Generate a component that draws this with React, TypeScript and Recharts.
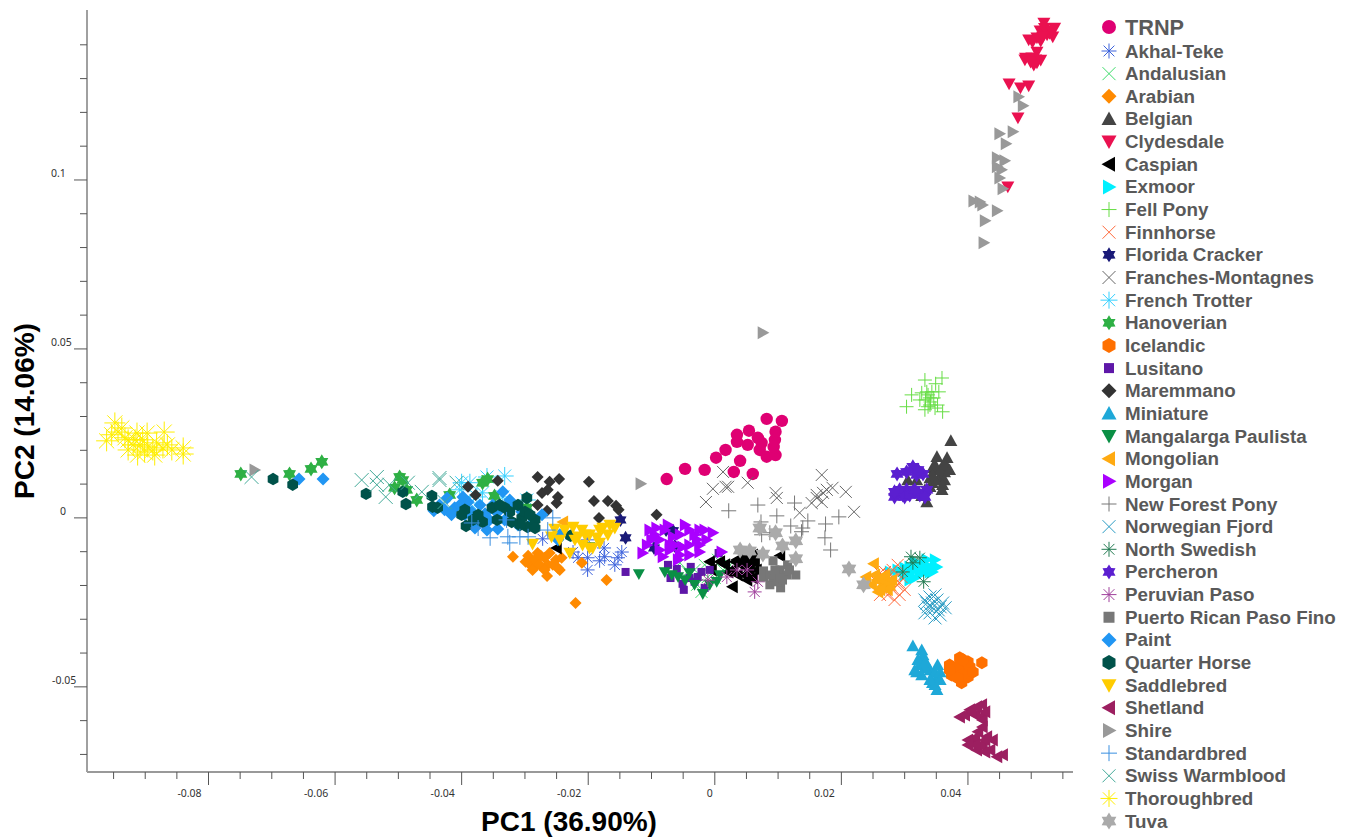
import React from 'react';
import { ScatterChart, Scatter, XAxis, YAxis, Legend } from 'recharts';

type P = [number, number];

const trnp: P[] = [[-.0076,.0115],[-.0047,.0145],[-.0016,.0142],[.0002,.0178],[.0017,.0201],[.0030,.0136],[.0060,.0130],[.0040,.0169],[.0035,.0246],[.0054,.0258],[.0052,.0216],[.0068,.0237],[.0074,.0222],[.0071,.0201],[.0082,.0181],[.0096,.0186],[.0095,.0231],[.0096,.0255],[.0082,.0293],[.0106,.0287],[.0035,.0225],[.0093,.0210]];
const akhalTeke: P[] = [[-.0272,-.0062],[-.0224,-.0101],[-.0216,-.0118],[-.0201,-.0118],[-.0201,-.0154],[-.0175,-.0089],[-.0174,-.0115],[-.0182,-.0127],[-.0158,-.0139],[-.0153,-.0118],[-.0147,-.0101],[-.0201,-.0065]];
const andalusian: P[] = [[-.0055,-.0133],[-.0043,-.0160],[-.0028,-.0198],[.0005,-.0124],[.0013,-.0154],[-.0011,-.0175],[-.0032,-.0154],[-.0016,-.0139],[.0000,-.0178],[.0024,-.0139],[-.0040,-.0184],[-.0021,-.0219]];
const arabian: P[] = [[-.0319,-.0115],[-.0295,-.0112],[-.0292,-.0139],[-.0280,-.0104],[-.0269,-.0118],[-.0256,-.0139],[-.0242,-.0118],[-.0245,-.0154],[-.0265,-.0172],[-.0281,-.0139],[-.0171,-.0184],[-.0220,-.0252],[-.0210,-.0133],[-.0284,-.0124],[-.0264,-.0139],[-.0251,-.0124],[-.0277,-.0139],[-.0269,-.0154],[-.0261,-.0104],[-.0248,-.0148],[-.0288,-.0154],[-.0275,-.0112],[-.0299,-.0130]];
const belgian: P[] = [[.0373,.0228],[.0351,.0181],[.0367,.0178],[.0344,.0148],[.0359,.0151],[.0368,.0148],[.0305,.0112],[.0319,.0112],[.0359,.0083],[.0327,.0065],[.0335,.0047],[.0340,.0118],[.0356,.0121],[.0344,.0104],[.0363,.0136],[.0351,.0142],[.0340,.0092],[.0352,.0112],[.0363,.0112],[.0356,.0142],[.0348,.0157],[.0332,.0083],[.0363,.0157],[.0371,.0142],[.0360,.0098],[.0344,.0127]];
const clydesdale: P[] = [[.0520,.1465],[.0537,.1450],[.0526,.1439],[.0534,.1424],[.0496,.1415],[.0509,.1421],[.0525,.1430],[.0509,.1379],[.0490,.1356],[.0507,.1356],[.0509,.1347],[.0501,.1362],[.0465,.1285],[.0483,.1273],[.0496,.1279],[.0479,.1184],[.0463,.0980],[.0514,.1442],[.0529,.1434],[.0521,.1449],[.0502,.1408],[.0515,.1411],[.0491,.1361],[.0499,.1349],[.0515,.1355],[.0504,.1340],[.0532,.1442],[.0518,.1423]];
const caspian: P[] = [[-.0008,-.0130],[-.0005,-.0154],[.0035,-.0124],[.0051,-.0115],[.0060,-.0110],[.0063,-.0133],[.0047,-.0133],[.0028,-.0154],[.0055,-.0160],[.0060,-.0178],[.0051,-.0184],[.0028,-.0204],[.0103,-.0112],[.0016,-.0139],[-.0250,-.0089],[.0043,-.0142],[.0055,-.0139],[.0036,-.0169],[.0047,-.0169],[.0058,-.0124],[.0021,-.0160],[.0008,-.0130],[.0066,-.0154],[.0032,-.0130],[.0043,-.0118]];
const exmoor: P[] = [[.0277,-.0160],[.0289,-.0154],[.0308,-.0145],[.0319,-.0133],[.0335,-.0124],[.0348,-.0124],[.0344,-.0160],[.0329,-.0163],[.0308,-.0184],[.0324,-.0163],[.0316,-.0178],[.0340,-.0145],[.0300,-.0169],[.0311,-.0160],[.0321,-.0145],[.0332,-.0139],[.0340,-.0160],[.0351,-.0145],[.0332,-.0154],[.0300,-.0148],[.0316,-.0130]];
const fellPony: P[] = [[.0303,.0329],[.0332,.0408],[.0359,.0414],[.0349,.0397],[.0327,.0370],[.0311,.0364],[.0333,.0349],[.0340,.0334],[.0346,.0355],[.0337,.0329],[.0360,.0314],[.0354,.0373],[.0343,.0373],[.0337,.0364],[.0341,.0343],[.0324,.0349],[.0332,.0320],[.0340,.0355],[.0348,.0325],[.0335,.0373],[.0352,.0334]];
const finnhorse: P[] = [[.0289,-.0139],[.0265,-.0178],[.0256,-.0189],[.0284,-.0178],[.0277,-.0198],[.0269,-.0213],[.0284,-.0243],[.0300,-.0213],[.0261,-.0163],[.0292,-.0192],[.0295,-.0175],[.0261,-.0198],[.0269,-.0184],[.0277,-.0169],[.0281,-.0213],[.0273,-.0228],[.0288,-.0198],[.0261,-.0228],[.0292,-.0228],[.0269,-.0160],[.0281,-.0154]];
const floridaCracker: P[] = [[-.0149,-.0006],[-.0141,-.0059],[-.0077,-.0036],[-.0066,-.0038],[-.0096,-.0089],[-.0063,-.0083]];
const franchesMontagnes: P[] = [[.0013,.0136],[-.0003,.0086],[-.0014,.0047],[.0017,.0092],[.0021,.0092],[.0052,.0104],[.0096,.0074],[.0098,.0059],[.0134,.0015],[.0169,.0127],[.0186,.0089],[.0207,.0077],[.0220,.0018],[.0177,.0083],[.0161,.0068],[.0153,.0044],[.0169,.0047],[.0161,.0059],[.0171,.0074]];
const frenchTrotter: P[] = [[-.0400,.0104],[-.0387,.0104],[-.0360,.0121],[-.0332,.0124],[-.0367,.0074],[-.0376,.0062],[-.0335,.0062],[-.0297,.0053],[-.0387,.0044],[-.0403,.0083]];
const hanoverian: P[] = [[-.0749,.0130],[-.0672,.0130],[-.0638,.0145],[-.0621,.0166],[-.0498,.0121],[-.0493,.0112],[-.0506,.0089],[-.0487,.0083],[-.0471,.0053],[-.0419,.0068],[-.0367,.0104],[-.0359,.0115],[-.0348,.0065],[-.0297,.0030]];
const icelandic: P[] = [[.0422,-.0429],[.0387,-.0414],[.0400,-.0426],[.0371,-.0435],[.0379,-.0456],[.0395,-.0450],[.0403,-.0441],[.0400,-.0471],[.0390,-.0488],[.0374,-.0465],[.0387,-.0435],[.0384,-.0444],[.0392,-.0420],[.0408,-.0456],[.0390,-.0465],[.0384,-.0474],[.0371,-.0450]];
const lusitano: P[] = [[-.0141,-.0160],[-.0074,-.0139],[-.0060,-.0151],[-.0070,-.0178],[-.0051,-.0195],[-.0049,-.0213],[-.0038,-.0145],[-.0016,-.0207],[-.0027,-.0175],[.0006,-.0104],[-.0032,-.0189],[-.0021,-.0160],[-.0008,-.0154],[-.0040,-.0178]];
const maremmano: P[] = [[-.0280,.0121],[-.0261,.0107],[-.0246,.0115],[-.0343,.0110],[-.0273,.0074],[-.0264,.0083],[-.0248,.0062],[-.0250,.0044],[-.0280,.0038],[-.0265,.0021],[-.0199,.0107],[-.0191,.0050],[-.0169,.0050],[-.0156,.0036],[-.0152,.0024],[-.0183,.0000],[-.0092,.0009],[-.0390,.0092],[-.0378,.0068]];
const miniature: P[] = [[.0313,-.0379],[.0327,-.0391],[.0329,-.0414],[.0324,-.0435],[.0319,-.0456],[.0352,-.0435],[.0340,-.0450],[.0351,-.0471],[.0344,-.0488],[.0351,-.0509],[.0329,-.0406],[.0321,-.0420],[.0332,-.0444],[.0327,-.0465],[.0316,-.0450],[.0348,-.0456],[.0356,-.0456],[.0348,-.0494],[.0340,-.0479],[.0356,-.0479],[.0333,-.0426]];
const mangalarga: P[] = [[-.0198,-.0086],[-.0120,-.0166],[-.0079,-.0160],[-.0058,-.0175],[-.0040,-.0163],[-.0019,-.0225],[.0003,-.0189],[-.0068,-.0169],[-.0047,-.0184],[-.0032,-.0198],[-.0008,-.0198],[.0008,-.0169]];
const mongolian: P[] = [[.0251,-.0136],[.0239,-.0175],[.0256,-.0184],[.0264,-.0204],[.0258,-.0219],[.0269,-.0169],[.0277,-.0198],[-.0240,-.0012],[.0253,-.0169],[.0261,-.0178],[.0269,-.0189],[.0273,-.0213],[.0280,-.0184],[.0261,-.0213],[.0248,-.0198]];
const morgan: P[] = [[-.0092,-.0030],[-.0107,-.0080],[-.0114,-.0104],[-.0082,-.0115],[-.0024,-.0036],[-.0003,-.0044],[-.0013,-.0065],[-.0040,-.0036],[-.0066,-.0056],[-.0051,-.0086],[-.0024,-.0101],[-.0040,-.0110],[-.0055,-.0110],[-.0087,-.0065],[-.0071,-.0095],[.0011,-.0101],[-.0028,-.0065],[-.0095,-.0050],[-.0079,-.0036],[-.0055,-.0050],[-.0100,-.0065],[-.0074,-.0021],[-.0063,-.0080],[-.0040,-.0080],[-.0032,-.0050],[-.0016,-.0036],[-.0103,-.0036],[-.0087,-.0095],[-.0047,-.0021],[-.0058,-.0124],[-.0024,-.0080],[-.0071,-.0080]];
const newForest: P[] = [[.0022,.0021],[.0068,.0038],[.0098,.0006],[.0126,.0044],[.0073,-.0012],[.0120,-.0024],[.0147,-.0009],[.0139,-.0030],[.0087,-.0044],[.0074,-.0050],[.0175,-.0018],[.0196,.0003],[.0174,-.0059],[.0183,-.0095],[.0137,-.0041]];
const norwegianFjord: P[] = [[.0340,-.0234],[.0351,-.0243],[.0335,-.0252],[.0356,-.0263],[.0344,-.0266],[.0332,-.0281],[.0356,-.0287],[.0360,-.0252],[.0344,-.0252],[.0348,-.0228],[.0337,-.0263],[.0353,-.0272],[.0364,-.0266],[.0340,-.0281],[.0348,-.0296],[.0332,-.0243]];
const northSwedish: P[] = [[.0310,-.0115],[.0324,-.0118],[.0297,-.0160],[.0330,-.0189],[.0313,-.0133]];
const percheron: P[] = [[.0288,.0130],[.0313,.0151],[.0329,.0130],[.0284,.0062],[.0297,.0068],[.0313,.0077],[.0335,.0083],[.0319,.0127],[.0303,.0083],[.0321,.0074],[.0292,.0083],[.0284,.0077],[.0300,.0062],[.0308,.0068],[.0324,.0068],[.0316,.0083],[.0332,.0062],[.0303,.0136],[.0321,.0142]];
const peruvianPaso: P[] = [[.0063,-.0219],[.0068,-.0189],[.0035,-.0154],[.0019,-.0175],[-.0011,-.0184],[.0051,-.0154]];
const puertoRican: P[] = [[.0092,-.0127],[.0077,-.0157],[.0077,-.0175],[.0087,-.0198],[.0104,-.0207],[.0092,-.0175],[.0103,-.0154],[.0115,-.0139],[.0114,-.0169],[.0128,-.0169],[.0098,-.0189],[.0107,-.0184],[.0087,-.0169],[.0103,-.0178],[.0095,-.0154],[.0118,-.0154]];
const paint: P[] = [[-.0657,.0115],[-.0619,.0115],[-.0444,.0021],[-.0423,.0059],[-.0411,.0030],[-.0390,.0047],[-.0376,-.0015],[-.0363,.0012],[-.0344,.0015],[-.0343,-.0033],[-.0321,.0030],[-.0311,-.0021],[-.0335,.0077],[-.0273,.0009],[-.0245,-.0050],[-.0248,-.0065],[-.0427,.0024],[-.0403,.0038],[-.0435,.0038],[-.0416,.0009],[-.0398,.0062],[-.0384,.0018],[-.0371,.0038],[-.0356,-.0006],[-.0351,.0038],[-.0332,-.0006],[-.0324,.0053],[-.0305,.0018],[-.0292,.0009],[-.0379,-.0030],[-.0360,-.0036],[-.0292,-.0021],[-.0395,.0009]];
const quarterHorse: P[] = [[-.0698,.0115],[-.0667,.0098],[-.0551,.0071],[-.0493,.0077],[-.0488,.0041],[-.0447,.0065],[-.0446,.0033],[-.0438,.0030],[-.0400,.0009],[-.0393,-.0024],[-.0367,-.0012],[-.0352,.0030],[-.0332,.0030],[-.0311,.0038],[-.0305,.0000],[-.0296,-.0027],[-.0284,-.0006],[-.0228,-.0053],[-.0382,-.0006],[-.0395,.0024],[-.0374,.0009],[-.0344,-.0006],[-.0324,.0018],[-.0300,.0018],[-.0308,-.0021],[-.0292,.0009],[-.0340,.0038],[-.0321,-.0012],[-.0284,-.0030],[-.0297,.0059]];
const saddlebred: P[] = [[-.0253,-.0033],[-.0224,-.0027],[-.0210,-.0036],[-.0216,-.0056],[-.0258,-.0056],[-.0209,-.0080],[-.0193,-.0089],[-.0186,-.0059],[-.0177,-.0030],[-.0158,-.0030],[-.0182,-.0074],[-.0288,-.0077],[-.0229,-.0104],[-.0198,-.0089],[-.0237,-.0036],[-.0221,-.0065],[-.0198,-.0050],[-.0169,-.0050],[-.0205,-.0050],[-.0245,-.0065],[-.0182,-.0036],[-.0166,-.0021]];
const shetland: P[] = [[.0422,-.0553],[.0403,-.0568],[.0387,-.0589],[.0419,-.0589],[.0423,-.0598],[.0416,-.0633],[.0406,-.0663],[.0430,-.0648],[.0423,-.0672],[.0414,-.0687],[.0439,-.0657],[.0446,-.0707],[.0455,-.0701],[.0423,-.0619],[.0395,-.0583],[.0411,-.0583],[.0427,-.0574],[.0400,-.0657],[.0411,-.0651],[.0419,-.0672],[.0427,-.0657],[.0435,-.0687],[.0411,-.0672],[.0400,-.0672],[.0427,-.0693],[.0406,-.0574],[.0414,-.0559]];
const shire: P[] = [[.0480,.1246],[.0487,.1220],[.0450,.1137],[.0471,.1143],[.0460,.1107],[.0446,.1066],[.0458,.1057],[.0446,.1039],[.0453,.1030],[.0450,.1006],[.0455,.0974],[.0409,.0938],[.0419,.0935],[.0423,.0926],[.0446,.0909],[.0427,.0879],[.0425,.0814],[.0076,.0548],[-.0117,.0101],[-.0727,.0142]];
const standardbred: P[] = [[-.0374,-.0030],[-.0355,-.0059],[-.0329,-.0006],[-.0327,-.0056],[-.0324,-.0074],[-.0308,-.0056],[-.0295,-.0056],[-.0256,.0000],[-.0264,-.0036],[-.0384,-.0015]];
const swissWarmblood: P[] = [[-.0732,.0121],[-.0558,.0112],[-.0534,.0121],[-.0534,.0098],[-.0520,.0062],[-.0514,.0098],[-.0485,.0104],[-.0463,.0077],[-.0435,.0112],[-.0435,.0118],[-.0427,.0047],[-.0408,.0104]];
const thoroughbred: P[] = [[-.0948,.0281],[-.0937,.0266],[-.0961,.0228],[-.0953,.0246],[-.0927,.0231],[-.0913,.0251],[-.0897,.0251],[-.0870,.0254],[-.0919,.0216],[-.0908,.0216],[-.0896,.0210],[-.0882,.0222],[-.0872,.0207],[-.0916,.0231],[-.0840,.0207],[-.0840,.0189],[-.0888,.0201],[-.0904,.0231],[-.0932,.0237],[-.0865,.0216],[-.0943,.0254],[-.0927,.0201],[-.0901,.0195],[-.0885,.0186],[-.0858,.0201],[-.0912,.0186]];
const tuva: P[] = [[.0071,-.0030],[.0096,-.0044],[.0107,-.0083],[.0128,-.0068],[.0040,-.0095],[.0055,-.0098],[.0076,-.0107],[.0128,-.0121],[.0212,-.0151],[.0235,-.0198]];

const xTicks = [-0.095,-0.09,-0.085,-0.08,-0.075,-0.07,-0.065,-0.06,-0.055,-0.05,-0.045,-0.04,-0.035,-0.03,-0.025,-0.02,-0.015,-0.01,-0.005,0,0.005,0.01,0.015,0.02,0.025,0.03,0.035,0.04,0.045,0.05,0.055];
const xLabelled = [-0.08,-0.06,-0.04,-0.02,0,0.02,0.04];
const yTicks = [0.14,0.13,0.12,0.11,0.1,0.09,0.08,0.07,0.06,0.05,0.04,0.03,0.02,0.01,0,-0.01,-0.02,-0.03,-0.04,-0.05,-0.06,-0.07];
const yLabelled = [0.1,0.05,0,-0.05];

const xLabel = 'PC1 (36.90%)';
const yLabel = 'PC2 (14.06%)';

type Kind = 'circle'|'ast'|'x'|'diamond'|'up'|'down'|'left'|'right'|'plus'|'star'|'hex'|'square';
type S = { name: string; data: P[]; color: string; kind: Kind; r: number };

const series: S[] = [
  { name: 'TRNP', data: trnp, color: '#df0073', kind: 'circle', r: 6.2 },
  { name: 'Akhal-Teke', data: akhalTeke, color: '#3c62dc', kind: 'ast', r: 7 },
  { name: 'Andalusian', data: andalusian, color: '#3ddc6a', kind: 'x', r: 6 },
  { name: 'Arabian', data: arabian, color: '#ff8a00', kind: 'diamond', r: 6 },
  { name: 'Belgian', data: belgian, color: '#444444', kind: 'up', r: 6.5 },
  { name: 'Clydesdale', data: clydesdale, color: '#ea1150', kind: 'down', r: 6.5 },
  { name: 'Caspian', data: caspian, color: '#000000', kind: 'left', r: 6.5 },
  { name: 'Exmoor', data: exmoor, color: '#00f0ff', kind: 'right', r: 6.5 },
  { name: 'Fell Pony', data: fellPony, color: '#66dd44', kind: 'plus', r: 7 },
  { name: 'Finnhorse', data: finnhorse, color: '#ff6a3c', kind: 'x', r: 6 },
  { name: 'Florida Cracker', data: floridaCracker, color: '#1a1a78', kind: 'star', r: 7 },
  { name: 'Franches-Montagnes', data: franchesMontagnes, color: '#666666', kind: 'x', r: 6 },
  { name: 'French Trotter', data: frenchTrotter, color: '#33d0ff', kind: 'ast', r: 9 },
  { name: 'Hanoverian', data: hanoverian, color: '#2eb044', kind: 'star', r: 7.5 },
  { name: 'Icelandic', data: icelandic, color: '#ff7000', kind: 'hex', r: 6.5 },
  { name: 'Lusitano', data: lusitano, color: '#5e17a8', kind: 'square', r: 4 },
  { name: 'Maremmano', data: maremmano, color: '#333333', kind: 'diamond', r: 6 },
  { name: 'Miniature', data: miniature, color: '#1ea8d8', kind: 'up', r: 6.5 },
  { name: 'Mangalarga Paulista', data: mangalarga, color: '#0a8f45', kind: 'down', r: 6 },
  { name: 'Mongolian', data: mongolian, color: '#ffaa11', kind: 'left', r: 6.5 },
  { name: 'Morgan', data: morgan, color: '#aa00ff', kind: 'right', r: 6.5 },
  { name: 'New Forest Pony', data: newForest, color: '#777777', kind: 'plus', r: 7.5 },
  { name: 'Norwegian Fjord', data: norwegianFjord, color: '#2a9cc4', kind: 'x', r: 6.5 },
  { name: 'North Swedish', data: northSwedish, color: '#217a50', kind: 'ast', r: 7 },
  { name: 'Percheron', data: percheron, color: '#5b1fd0', kind: 'star', r: 7.5 },
  { name: 'Peruvian Paso', data: peruvianPaso, color: '#a0409c', kind: 'ast', r: 7 },
  { name: 'Puerto Rican Paso Fino', data: puertoRican, color: '#777777', kind: 'square', r: 4.5 },
  { name: 'Paint', data: paint, color: '#2196f3', kind: 'diamond', r: 6.5 },
  { name: 'Quarter Horse', data: quarterHorse, color: '#00524a', kind: 'hex', r: 6.2 },
  { name: 'Saddlebred', data: saddlebred, color: '#ffcc00', kind: 'down', r: 6.5 },
  { name: 'Shetland', data: shetland, color: '#9c1f60', kind: 'left', r: 6.5 },
  { name: 'Shire', data: shire, color: '#999999', kind: 'right', r: 6.5 },
  { name: 'Standardbred', data: standardbred, color: '#3a8fe0', kind: 'plus', r: 8 },
  { name: 'Swiss Warmblood', data: swissWarmblood, color: '#44aa99', kind: 'x', r: 7 },
  { name: 'Thoroughbred', data: thoroughbred, color: '#ffee00', kind: 'ast', r: 10.5 },
  { name: 'Tuva', data: tuva, color: '#aaaaaa', kind: 'star', r: 8.5 },
];

function poly(pts: number[][]) {
  return pts.map((p) => p[0].toFixed(2) + ',' + p[1].toFixed(2)).join(' ');
}

function Marker({ cx, cy, kind, r, color }: { cx: number; cy: number; kind: Kind; r: number; color: string }) {
  const lines = (segs: number[][]) => (
    <g stroke={color} strokeWidth={1} fill="none">
      {segs.map((s, i) => <line key={i} x1={cx + s[0]} y1={cy + s[1]} x2={cx + s[2]} y2={cy + s[3]} />)}
    </g>
  );
  const d = r * 0.72;
  switch (kind) {
    case 'circle': return <circle cx={cx} cy={cy} r={r} fill={color} />;
    case 'square': return <rect x={cx - r} y={cy - r} width={2 * r} height={2 * r} fill={color} />;
    case 'diamond': return <polygon points={poly([[cx, cy - r], [cx + r, cy], [cx, cy + r], [cx - r, cy]])} fill={color} />;
    case 'up': return <polygon points={poly([[cx, cy - r], [cx + r, cy + r * 0.8], [cx - r, cy + r * 0.8]])} fill={color} />;
    case 'down': return <polygon points={poly([[cx, cy + r], [cx + r, cy - r * 0.8], [cx - r, cy - r * 0.8]])} fill={color} />;
    case 'left': return <polygon points={poly([[cx - r, cy], [cx + r * 0.8, cy - r], [cx + r * 0.8, cy + r]])} fill={color} />;
    case 'right': return <polygon points={poly([[cx + r, cy], [cx - r * 0.8, cy - r], [cx - r * 0.8, cy + r]])} fill={color} />;
    case 'hex': {
      const a = [0, 1, 2, 3, 4, 5].map((i) => {
        const t = Math.PI / 3 * i + Math.PI / 6;
        return [cx + r * Math.cos(t), cy + r * Math.sin(t)];
      });
      return <polygon points={poly(a)} fill={color} />;
    }
    case 'star': {
      const a = [0, 1, 2, 3, 4, 5, 6, 7, 8, 9, 10, 11].map((i) => {
        const t = Math.PI / 6 * i - Math.PI / 2;
        const q = i % 2 === 0 ? r : r * 0.6;
        return [cx + q * Math.cos(t), cy + q * Math.sin(t)];
      });
      return <polygon points={poly(a)} fill={color} />;
    }
    case 'x': return lines([[-r, -r, r, r], [-r, r, r, -r]]);
    case 'plus': return lines([[-r, 0, r, 0], [0, -r, 0, r]]);
    case 'ast': return lines([[-r, 0, r, 0], [0, -r, 0, r], [-d, -d, d, d], [-d, d, d, -d]]);
  }
  return null;
}

const XTick = (props: any) => {
  const { x, y, payload } = props;
  const v = payload.value as number;
  const major = xLabelled.includes(v);
  const dx = v === 0 ? -5 : v > 0 ? -17 : -19;
  return (
    <g>
      <line x1={x} y1={y} x2={x} y2={y + (major ? 13 : 7)} stroke="#555555" strokeWidth={1} />
      {major && <text x={x + dx} y={y + 25} textAnchor="middle" fontFamily="Noto Sans" fontSize={10.5} fill="#333333">{String(v)}</text>}
    </g>
  );
};

const YTick = (props: any) => {
  const { x, y, payload } = props;
  const v = payload.value as number;
  const major = yLabelled.includes(v);
  const lx = v === 0 ? 60 : v < 0 ? 52 : 51;
  return (
    <g>
      <line x1={x} y1={y} x2={x - (major ? 13 : 7)} y2={y} stroke="#555555" strokeWidth={1} />
      {major && <text x={lx} y={y - 3} fontFamily="Noto Sans" fontSize={10.5} fill="#333333">{String(v)}</text>}
    </g>
  );
};

const LegendBody = () => (
  <svg width={259} height={828} style={{ display: 'block', overflow: 'visible' }}>
    {series.map((s, i) => {
      const first = i === 0;
      const cy = first ? 17 : 41 + (i - 1) * 22.65;
      const ls = s.kind === 'square' ? s.r + 1 : s.kind === 'circle' ? 7 : s.kind === 'x' ? 6.5 : s.r < 7.5 ? 7.5 : Math.min(s.r, 8.5);
      return (
        <g key={s.name}>
          <Marker cx={19} cy={cy} kind={s.kind} r={ls} color={s.color} />
          <text x={35} y={cy + (first ? 7.5 : 6.5)} fontFamily="Liberation Sans" fontWeight={700} fontSize={first ? 21.7 : 18.8} fill="#595959">{s.name}</text>
        </g>
      );
    })}
  </svg>
);

export default function App() {
  return (
    <div style={{ position: 'absolute', left: 0, top: 0, width: 1349, height: 838, background: '#ffffff' }}>
      <ScatterChart width={1349} height={838} margin={{ top: 10, right: 17, bottom: 0, left: 0 }}>
        <XAxis
          type="number"
          dataKey="x"
          domain={[-0.0992, 0.0566]}
          ticks={xTicks}
          interval={0}
          height={66}
          tickSize={0}
          tickMargin={0}
          tickLine={false}
          tick={XTick}
          axisLine={{ stroke: '#999999', strokeWidth: 2 }}
          allowDataOverflow
          label={() => (
            <text x={569} y={831} textAnchor="middle" fontFamily="Liberation Sans" fontWeight={700} fontSize={28} fill="#000000">{xLabel}</text>
          )}
        />
        <YAxis
          type="number"
          dataKey="y"
          domain={[-0.0752, 0.1503]}
          ticks={yTicks}
          interval={0}
          width={87}
          tickSize={0}
          tickMargin={0}
          tickLine={false}
          tick={YTick}
          axisLine={{ stroke: '#a0a0a0', strokeWidth: 2 }}
          allowDataOverflow
          label={() => (
            <text x={34} y={411} transform="rotate(-90 34 411)" textAnchor="middle" fontFamily="Liberation Sans" fontWeight={700} fontSize={28} fill="#000000">{yLabel}</text>
          )}
        />
        <Legend
          layout="vertical"
          align="right"
          verticalAlign="top"
          width={259}
          height={828}
          wrapperStyle={{ left: 1090, top: 10 }}
          content={LegendBody}
        />
        {series.map((s) => (
          <Scatter
            key={s.name}
            name={s.name}
            data={s.data.map(([x, y]) => ({ x, y }))}
            fill={s.color}
            isAnimationActive={false}
            shape={(p: any) => <Marker cx={p.cx} cy={p.cy} kind={s.kind} r={s.r} color={s.color} />}
          />
        ))}
      </ScatterChart>
    </div>
  );
}
